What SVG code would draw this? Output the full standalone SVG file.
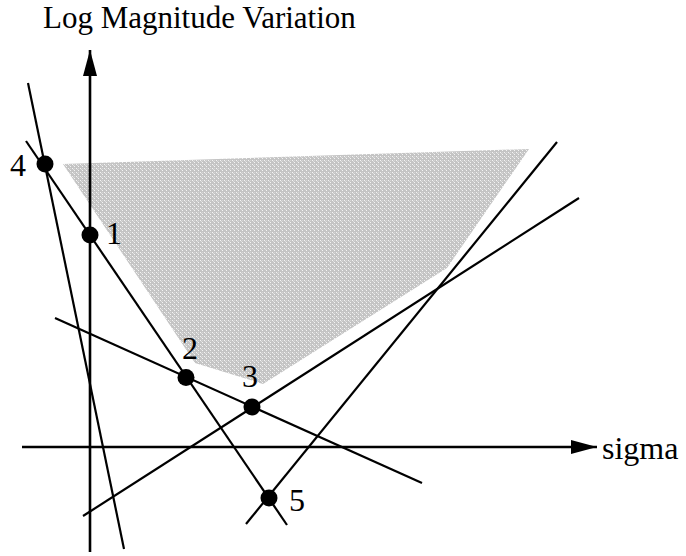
<svg xmlns="http://www.w3.org/2000/svg" width="686" height="556" viewBox="0 0 686 556">
<style>
.ln{stroke:#000;stroke-width:2.2;fill:none}
.ax{stroke:#000;stroke-width:2.6;fill:none}
.pt{fill:#000}
.t{font-family:"Liberation Serif","Times New Roman",serif;font-size:31px;fill:#000}
.n{font-size:32px}
</style>
<defs>
<pattern id="hatch" width="4" height="4" patternUnits="userSpaceOnUse">
<rect width="4" height="4" fill="#c4c4c4"/>
<rect x="0" y="0" width="1" height="1" fill="#f4f4f4"/>
<rect x="1" y="1" width="1" height="1" fill="#dedede"/>
<rect x="2" y="2" width="1" height="1" fill="#f4f4f4"/>
<rect x="2" y="0" width="1" height="1" fill="#d4d4d4"/>
</pattern>
<marker id="arr" markerUnits="userSpaceOnUse" markerWidth="26" markerHeight="14" refX="26" refY="7" orient="auto">
<path d="M0,0 L26,7 L0,14 Z" fill="#000"/>
</marker>
</defs>
<g id="region">
<polygon points="63,164 529,149 447,268 263,384 195,363" fill="url(#hatch)"/>
</g>
<g id="axes">
<line class="ax" x1="90" y1="552" x2="90" y2="50" marker-end="url(#arr)"/>
<line class="ax" x1="22" y1="447" x2="597" y2="447" marker-end="url(#arr)"/>
</g>
<g id="connectors">
<line class="ln" x1="28" y1="83" x2="124" y2="549"/>
<line class="ln" x1="26" y1="141" x2="287" y2="525"/>
<line class="ln" x1="55" y1="318" x2="422" y2="483"/>
<line class="ln" x1="83" y1="516" x2="579" y2="198"/>
<line class="ln" x1="246" y1="524" x2="557" y2="142"/>
</g>
<g id="p4"><circle class="pt" cx="45" cy="164" r="8.5"/><text class="t n" x="10" y="176">4</text></g>
<g id="p1"><circle class="pt" cx="90" cy="235" r="8.5"/><text class="t n" x="106" y="244">1</text></g>
<g id="p2"><circle class="pt" cx="186" cy="377.5" r="8.5"/><text class="t n" x="182" y="359">2</text></g>
<g id="p3"><circle class="pt" cx="252" cy="407" r="8.5"/><text class="t n" x="242" y="387">3</text></g>
<g id="p5"><circle class="pt" cx="269" cy="498" r="8.5"/><text class="t n" x="289" y="511">5</text></g>
<g id="labels">
<text class="t" x="43" y="28">Log Magnitude Variation</text>
<text class="t" x="602" y="459" style="font-size:32px">sigma</text>
</g>
</svg>
